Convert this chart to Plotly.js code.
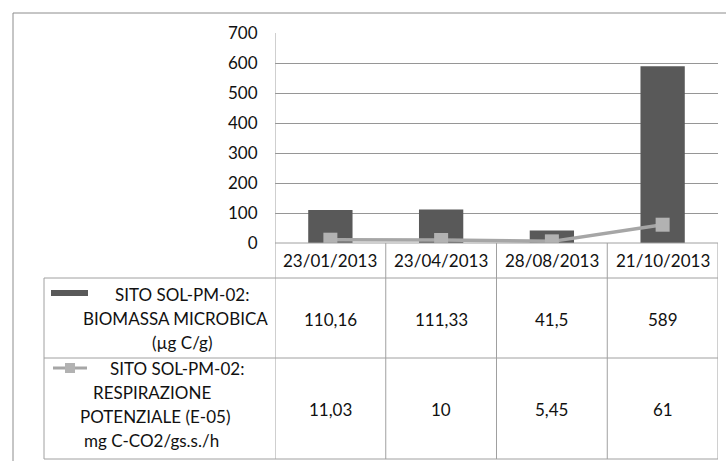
<!DOCTYPE html>
<html>
<head>
<meta charset="utf-8">
<script src="https://cdn.plot.ly/plotly-3.0.1.min.js"></script>
<style>
html,body{margin:0;padding:0;background:#fff;}
#chart{width:726px;height:461px;}
</style>
</head>
<body>
<div id="chart"></div>
<script>
// ---- data ----
var dates = ["23/01/2013", "23/04/2013", "28/08/2013", "21/10/2013"];
var biomassa = [110.16, 111.33, 41.5, 589];
var respirazione = [11.03, 10, 5.45, 61];
var yTicks = [0, 100, 200, 300, 400, 500, 600, 700];
var labelBiomassa = ["SITO SOL-PM-02:", "BIOMASSA MICROBICA", "(\u00b5g C/g)"];
var labelRespirazione = ["SITO SOL-PM-02:", "RESPIRAZIONE", "POTENZIALE (E-05)", "mg C-CO2/gs.s./h"];

// ---- geometry helpers (pixels -> paper) ----
var W = 726, H = 461;
function px(x){ return x / W; }
function py(y){ return 1 - y / H; }

var FONT = "Lato, 'Open Sans', sans-serif";
var TXT = "#111111";
var GRID = "#969696";
var TLINE = "#a0a0a0";
var BAR = "#595959";
var LINEC = "#a6a6a6";
var MARK = "#b2b2b2";

var plotTop = 33, plotBot = 243, hdrBot = 278, row1Bot = 358, row2Bot = 459;
var tableLeft = 44;

function fmt(v){ return String(v).replace('.', ','); }

var idx = dates.map(function(d, i){ return i; });

var traces = [
  {
    type: 'bar', x: idx, y: biomassa, width: 0.4,
    marker: {color: BAR, line: {width: 0}},
    hoverinfo: 'skip', showlegend: false
  },
  {
    type: 'scatter', mode: 'lines+markers', x: idx, y: respirazione,
    line: {color: LINEC, width: 3.5},
    marker: {symbol: 'square', size: 14, color: MARK},
    hoverinfo: 'skip', showlegend: false
  }
];

var shapes = [];
var annotations = [];

function hline(x0, x1, y, xref, color){
  shapes.push({type:'line', xref: xref || 'paper', yref:'paper', x0:x0, x1:x1, y0:py(y), y1:py(y), line:{color: color || TLINE, width:1}});
}
function vline(x, y0, y1, xref, color){
  shapes.push({type:'line', xref: xref || 'paper', yref:'paper', x0:x, x1:x, y0:py(y0), y1:py(y1), line:{color: color || TLINE, width:1}});
}

// outer frame
hline(px(13), 1, 13, 'paper', '#8c8c8c');
vline(px(13), 13, 461, 'paper', '#8c8c8c');

// table lines
hline(-0.5, 3.5, plotBot, 'x');
hline(px(tableLeft), px(718), hdrBot, 'paper');
hline(px(tableLeft), px(718), row1Bot, 'paper');
hline(px(tableLeft), px(718), row2Bot, 'paper');
vline(px(tableLeft), hdrBot, row2Bot, 'paper');
vline(-0.5, plotTop, row2Bot, 'x');
for (var c = 0; c < dates.length; c++) {
  vline(c + 0.5, plotBot, row2Bot, 'x');
}

// header and values
dates.forEach(function(d, i){
  annotations.push({xref:'x', yref:'paper', x:i, y:py((plotBot + hdrBot)/2), text:d, showarrow:false, xanchor:'center', yanchor:'middle', font:{family:FONT, size:17, color:TXT}});
  annotations.push({xref:'x', yref:'paper', x:i, y:py(319), text:fmt(biomassa[i]), showarrow:false, xanchor:'center', yanchor:'middle', font:{family:FONT, size:17, color:TXT}});
  annotations.push({xref:'x', yref:'paper', x:i, y:py(409), text:fmt(respirazione[i]), showarrow:false, xanchor:'center', yanchor:'middle', font:{family:FONT, size:17, color:TXT}});
});

// row labels
var r1x = [182, 175, 182], r1y = [294, 318, 342];
labelBiomassa.forEach(function(t, k){
  annotations.push({xref:'paper', yref:'paper', x:px(r1x[k]), y:py(r1y[k]), text:t, showarrow:false, xanchor:'center', yanchor:'middle', font:{family:FONT, size:17, color:TXT}});
});
var r2x = [177, 152, 155, 151], r2y = [368, 392, 416, 440];
labelRespirazione.forEach(function(t, k){
  annotations.push({xref:'paper', yref:'paper', x:px(r2x[k]), y:py(r2y[k]), text:t, showarrow:false, xanchor:'center', yanchor:'middle', font:{family:FONT, size:17, color:TXT}});
});

// legend keys in table
shapes.push({type:'rect', xref:'paper', yref:'paper', x0:px(51), x1:px(88), y0:py(296), y1:py(290), fillcolor:BAR, line:{width:0}});
shapes.push({type:'line', xref:'paper', yref:'paper', x0:px(53), x1:px(87), y0:py(368), y1:py(368), line:{color:LINEC, width:3}});
shapes.push({type:'rect', xref:'paper', yref:'paper', x0:px(65), x1:px(75), y0:py(373), y1:py(363), fillcolor:MARK, line:{width:0}});

var layout = {
  width: W, height: H,
  margin: {l:0, r:0, t:0, b:0},
  paper_bgcolor: '#ffffff', plot_bgcolor: '#ffffff',
  showlegend: false,
  xaxis: {
    domain: [px(275), px(718)],
    range: [-0.5, 3.5],
    showgrid: false, zeroline: false, showticklabels: false, showline: false, ticks: ''
  },
  yaxis: {
    domain: [py(plotBot), py(plotTop)],
    range: [0, 700],
    tickvals: yTicks,
    ticktext: yTicks.map(String),
    showgrid: true, gridcolor: GRID, gridwidth: 1,
    zeroline: false, showline: false,
    ticks: 'outside', ticklen: 13, tickcolor: 'rgba(0,0,0,0)',
    tickfont: {family: FONT, size: 17, color: TXT}
  },
  shapes: shapes,
  annotations: annotations,
  bargap: 0.6
};

Plotly.newPlot('chart', traces, layout, {staticPlot: true, displayModeBar: false});
</script>
</body>
</html>
